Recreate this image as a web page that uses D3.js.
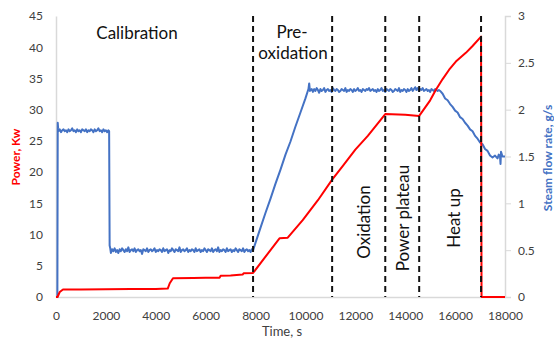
<!DOCTYPE html>
<html><head><meta charset="utf-8">
<script src="https://cdn.jsdelivr.net/npm/d3@7"></script>
<style>body{margin:0;background:#fff;} svg{display:block;}</style>
</head><body>
<svg id="c" width="554" height="344"></svg>
<script>
// ---- data ----
const xTicks = [0,2000,4000,6000,8000,10000,12000,14000,16000,18000];
const leftTicks = [0,5,10,15,20,25,30,35,40,45];
const rightTicks = [0,0.5,1,1.5,2,2.5,3];
const phaseLines = [7900, 11070, 13200, 14560, 17040];
const power = [[0,0],[60,0],[150,0.8],[280,1.2],[1000,1.2],[2000,1.25],[3000,1.3],[4000,1.3],[4480,1.35],[4560,2.2],[4690,3.0],[5500,3.05],[6000,3.1],[6560,3.1],[6600,3.4],[7000,3.45],[7480,3.6],[7520,3.8],[7900,3.85],[8960,9.4],[9290,9.5],[9890,12.3],[10500,15.5],[11070,18.8],[11500,21.0],[12000,23.6],[12500,25.8],[13200,29.3],[14000,29.2],[14560,29.0],[15000,31.5],[15230,33.2],[15500,34.9],[15760,36.4],[16030,37.7],[16430,39.1],[16700,40.2],[17040,41.7],[17060,0],[18000,0]];
const steam = [[0,0],[55,0],[70,1.86],[85,1.80],[100,1.77],[150,1.79],[200,1.76],[250,1.78],[300,1.79],[350,1.77],[400,1.78],[450,1.76],[500,1.79],[550,1.77],[600,1.78],[650,1.80],[700,1.77],[750,1.78],[800,1.76],[850,1.79],[900,1.77],[950,1.78],[1000,1.76],[1050,1.79],[1100,1.78],[1150,1.77],[1200,1.79],[1250,1.76],[1300,1.78],[1350,1.77],[1400,1.79],[1450,1.78],[1500,1.76],[1550,1.79],[1600,1.77],[1650,1.78],[1700,1.80],[1750,1.77],[1800,1.78],[1850,1.76],[1900,1.79],[1950,1.77],[2000,1.78],[2050,1.76],[2100,1.78],[2130,1.77],[2150,0.55],[2175,0.52],[2200,0.47],
[2250,0.51],[2300,0.49],[2350,0.52],[2400,0.48],[2450,0.50],[2500,0.47],[2550,0.51],[2600,0.49],[2650,0.52],[2700,0.50],[2750,0.48],[2800,0.51],[2850,0.49],[2900,0.53],[2950,0.48],[3000,0.50],[3050,0.51],[3100,0.49],[3150,0.52],[3200,0.48],[3250,0.50],[3300,0.51],[3350,0.49],[3400,0.50],[3450,0.46],[3500,0.51],[3550,0.50],[3600,0.49],[3650,0.52],[3700,0.48],[3750,0.50],[3800,0.51],[3850,0.49],[3900,0.50],[3950,0.52],[4000,0.48],[4050,0.50],[4100,0.49],[4150,0.51],[4200,0.50],[4250,0.48],[4300,0.52],[4350,0.49],[4400,0.50],[4450,0.51],[4500,0.47],[4550,0.50],[4600,0.49],[4650,0.52],[4700,0.50],[4750,0.48],[4800,0.51],[4850,0.50],[4900,0.49],[4950,0.53],[5000,0.48],[5050,0.50],[5100,0.51],[5150,0.49],[5200,0.50],[5250,0.52],[5300,0.48],[5350,0.50],[5400,0.49],[5450,0.51],[5500,0.50],[5550,0.48],[5600,0.52],[5650,0.49],[5700,0.50],[5750,0.51],[5800,0.48],[5850,0.50],[5900,0.49],[5950,0.52],[6000,0.50],[6050,0.48],[6100,0.51],[6150,0.50],[6200,0.49],[6250,0.52],[6300,0.48],[6350,0.50],[6400,0.51],[6450,0.49],[6500,0.53],[6550,0.48],[6600,0.50],[6650,0.49],[6700,0.51],[6750,0.50],[6800,0.48],[6850,0.52],[6900,0.49],[6950,0.50],[7000,0.51],[7050,0.48],[7100,0.50],[7150,0.49],[7200,0.52],[7250,0.50],[7300,0.48],[7350,0.51],[7400,0.50],[7450,0.49],[7500,0.52],[7550,0.48],[7600,0.50],[7650,0.51],[7700,0.49],[7750,0.50],[7800,0.48],[7850,0.51],[7900,0.50],
[8000,0.58],[8200,0.74],[8400,0.90],[8600,1.05],[8800,1.21],[9000,1.36],[9200,1.52],[9400,1.66],[9600,1.82],[9800,1.97],[10000,2.12],[10120,2.22],[10150,2.28],[10180,2.20],
[10250,2.22],[10300,2.19],[10350,2.22],[10400,2.20],[10450,2.23],[10500,2.21],[10550,2.18],[10600,2.22],[10650,2.20],[10700,2.21],[10750,2.23],[10800,2.19],[10850,2.21],[10900,2.22],[10950,2.20],[11000,2.21],[11050,2.19],[11100,2.23],[11150,2.21],[11200,2.20],[11250,2.22],[11300,2.21],[11350,2.19],[11400,2.20],[11450,2.22],[11500,2.21],[11550,2.20],[11600,2.23],[11650,2.19],[11700,2.21],[11750,2.20],[11800,2.22],[11850,2.21],[11900,2.19],[11950,2.22],[12000,2.20],[12050,2.21],[12100,2.23],[12150,2.20],[12200,2.21],[12250,2.19],[12300,2.22],[12350,2.21],[12400,2.20],[12450,2.22],[12500,2.21],[12550,2.23],[12600,2.20],[12650,2.21],[12700,2.22],[12750,2.20],[12800,2.21],[12850,2.19],[12900,2.22],[12950,2.20],[13000,2.21],[13050,2.23],[13100,2.20],[13150,2.21],[13200,2.19],[13250,2.22],[13300,2.21],[13350,2.20],[13400,2.22],[13450,2.21],[13500,2.19],[13550,2.20],[13600,2.22],[13650,2.21],[13700,2.20],[13750,2.23],[13800,2.19],[13850,2.21],[13900,2.20],[13950,2.22],[14000,2.21],[14050,2.19],[14100,2.22],[14150,2.20],[14200,2.21],[14250,2.23],[14300,2.20],[14350,2.22],[14400,2.24],[14450,2.21],[14500,2.23],[14550,2.20],[14600,2.22],[14650,2.21],[14700,2.23],[14750,2.20],[14800,2.21],[14850,2.22],[14900,2.20],[14950,2.21],[15000,2.19],[15050,2.22],[15100,2.21],[15150,2.20],[15200,2.22],[15250,2.21],[15300,2.20],[15350,2.21],
[15400,2.20],[15500,2.17],[15600,2.12],[15700,2.10],[15800,2.06],[15900,2.03],[16000,1.99],[16100,1.97],[16200,1.92],[16300,1.90],[16400,1.86],[16500,1.83],[16600,1.79],[16700,1.77],[16800,1.72],[16900,1.69],[17000,1.65],[17100,1.63],[17200,1.58],[17300,1.56],[17400,1.51],[17500,1.49],[17600,1.51],[17700,1.48],[17750,1.52],[17800,1.50],[17820,1.42],[17840,1.55],[17900,1.50],[18000,1.50]];

// ---- layout ----
const W = 554, H = 344;
const m = {l:56, r:49, t:16, b:47};
const svg = d3.select('#c');
const x = d3.scaleLinear().domain([0,18000]).range([m.l, W-m.r]);
const yL = d3.scaleLinear().domain([0,45]).range([H-m.b, m.t]);
const yR = d3.scaleLinear().domain([0,3]).range([H-m.b, m.t]);
const font = 'Lato, "Open Sans", sans-serif';
const tickCol = '#404040', axisCol = '#d9d9d9';

// axes
const gx = svg.append('g').attr('transform',`translate(0,${H-m.b})`)
  .call(d3.axisBottom(x).tickValues(xTicks).tickSize(0).tickPadding(14).tickFormat(d3.format('d')));
const gl = svg.append('g').attr('transform',`translate(${m.l},0)`)
  .call(d3.axisLeft(yL).tickValues(leftTicks).tickSize(0).tickPadding(13));
const gr = svg.append('g').attr('transform',`translate(${W-m.r},0)`)
  .call(d3.axisRight(yR).tickValues(rightTicks).tickSize(6).tickPadding(7).tickFormat(d=>String(d)));
[gx,gl,gr].forEach(g=>{
  g.select('.domain').attr('stroke',axisCol).attr('stroke-width',1.5);
  g.selectAll('.tick line').attr('stroke',axisCol);
  g.selectAll('text').attr('fill',tickCol).style('font-family',font).style('font-size','12px');
});

// lines
const lineL = d3.line().x(d=>x(d[0])).y(d=>yL(d[1]));
const lineR = d3.line().x(d=>x(d[0])).y(d=>yR(d[1]));
svg.append('path').datum(steam).attr('d',lineR).attr('fill','none').attr('stroke','#4472C4').attr('stroke-width',2).attr('stroke-linejoin','round');
svg.append('path').datum(power).attr('d',lineL).attr('fill','none').attr('stroke','#ff0000').attr('stroke-width',2).attr('stroke-linejoin','round');

// phase lines
svg.append('g').selectAll('line').data(phaseLines).join('line')
  .attr('x1',d=>x(d)).attr('x2',d=>x(d)).attr('y1',m.t).attr('y2',H-m.b)
  .attr('stroke','#111').attr('stroke-width',2).attr('stroke-dasharray','6,4');

// annotations
const ann = svg.append('g').style('font-family',font).attr('fill','#111').style('font-size','17px');
ann.append('text').attr('x',137).attr('y',39).attr('text-anchor','middle').text('Calibration');
ann.append('text').attr('x',292).attr('y',38).attr('text-anchor','middle').text('Pre-');
ann.append('text').attr('x',293).attr('y',59).attr('text-anchor','middle').text('oxidation');
[['Oxidation',363,222],['Power plateau',402,218],['Heat up',453,218]].forEach(([t,cx,cy])=>{
  ann.append('text').attr('transform',`translate(${cx},${cy}) rotate(-90)`)
    .attr('text-anchor','middle').attr('dominant-baseline','central').text(t);
});

// axis titles
svg.append('text').attr('transform','translate(15,157) rotate(-90)').attr('text-anchor','middle')
  .attr('dominant-baseline','central').style('font-family',font).style('font-size','12px').style('font-weight','bold')
  .attr('fill','#ff0000').text('Power, Kw');
svg.append('text').attr('transform','translate(547,158) rotate(-90)').attr('text-anchor','middle')
  .attr('dominant-baseline','central').style('font-family',font).style('font-size','12px').style('font-weight','bold')
  .attr('fill','#4472C4').text('Steam flow rate, g/s');
svg.append('text').attr('x',282).attr('y',336).attr('text-anchor','middle')
  .style('font-family',font).style('font-size','13px').attr('fill',tickCol).text('Time, s');
</script>
</body></html>
